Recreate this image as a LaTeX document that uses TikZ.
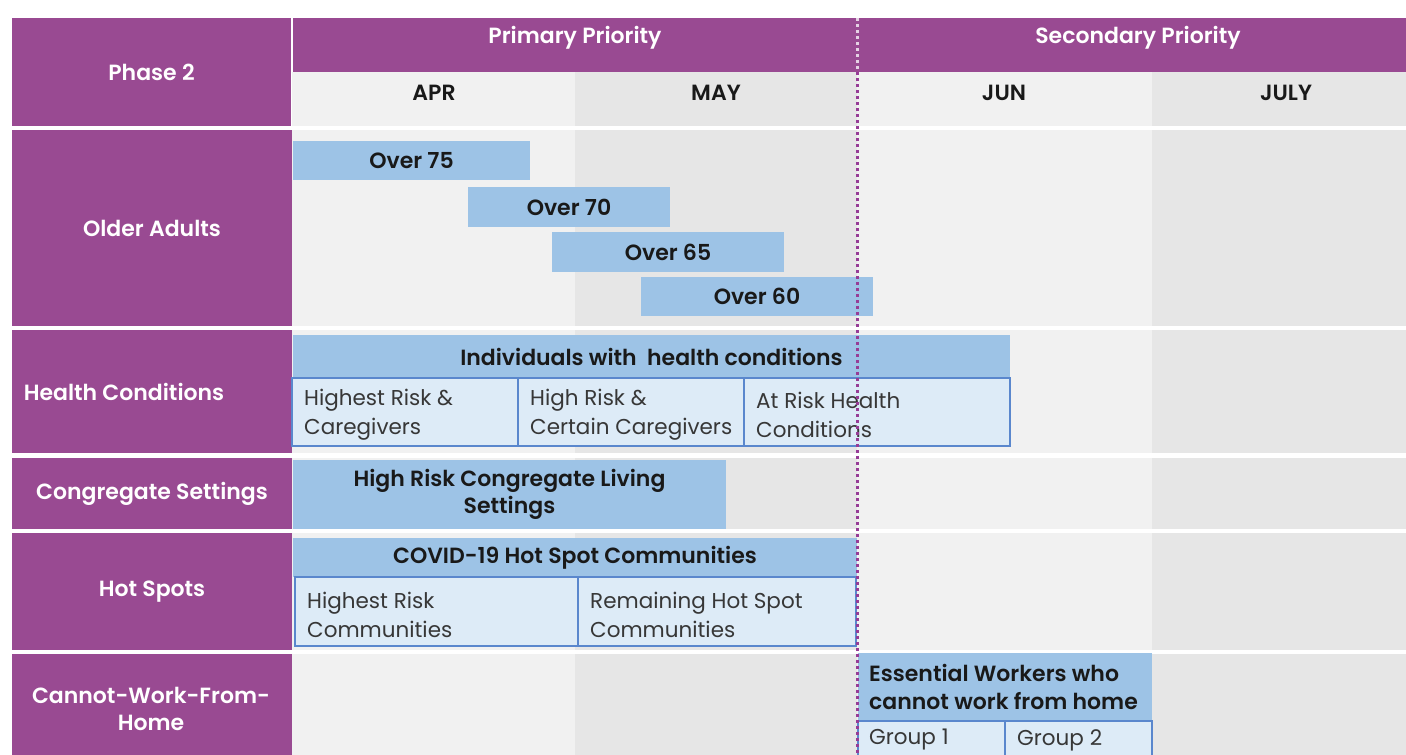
\documentclass[tikz,border=0pt]{standalone}
\usepackage{fontspec}
\setmainfont{Poppins}[BoldFont={Poppins SemiBold}]
\definecolor{purp}{RGB}{153,74,146}
\definecolor{dotc}{RGB}{150,60,150}
\definecolor{barblue}{RGB}{157,195,230}
\definecolor{subfill}{RGB}{221,235,247}
\definecolor{subline}{RGB}{90,135,205}
\definecolor{gA}{RGB}{241,241,241}
\definecolor{gB}{RGB}{230,230,230}
\definecolor{txt}{RGB}{25,25,25}
\definecolor{subtext}{RGB}{55,55,55}
\newcommand\Rbox[7]{\node[#2, minimum width={(#5-#3)*1pt}, minimum height={(#6-#4)*1pt}] (#1) at (#3,#4) {#7};}
\begin{document}
\begin{tikzpicture}[x=1pt,y=-1pt,
  cellbase/.style={anchor=north west, inner sep=0pt, outer sep=0pt},
  side/.style={cellbase, fill=purp, text=white, font=\fontsize{22}{27}\selectfont\bfseries, align=center},
  sidetxt/.style={inner sep=0pt, text=white, font=\fontsize{22}{27}\selectfont\bfseries, align=center},
  head/.style={cellbase, fill=purp},
  headtxt/.style={inner sep=0pt, text=white, font=\fontsize{22}{27}\selectfont\bfseries},
  month/.style={cellbase},
  monthtxt/.style={inner sep=0pt, text=txt, font=\fontsize{22}{27}\selectfont\bfseries},
  bar/.style={cellbase, fill=barblue, text=txt, font=\fontsize{22}{27}\selectfont\bfseries, align=center},
  sub/.style={cellbase, fill=subfill, draw=subline, line width=1.3pt},
  subtxt/.style={anchor=west, inner sep=0pt, yshift=-3pt, text=subtext, font=\fontsize{21.5}{29}\selectfont, align=left},
  grptxt/.style={anchor=west, inner sep=0pt, text=subtext, font=\fontsize{21.5}{29}\selectfont},
  barltxt/.style={anchor=west, inner sep=0pt, text=txt, font=\fontsize{22}{28}\selectfont\bfseries, align=left},
  divider/.style={dotc, line width=3pt, dash pattern=on 3pt off 3pt},
  dividerhead/.style={white!75!purp, line width=3pt, dash pattern=on 3pt off 3pt}
]
\clip (0,0) rectangle (1406,755);
\fill[white] (0,0) rectangle (1406,755);
% column backgrounds
\fill[gA] (292,72) rectangle (575,755);
\fill[gB] (575,72) rectangle (857,755);
\fill[gA] (857,72) rectangle (1152,755);
\fill[gB] (1152,72) rectangle (1406,755);
% row gaps
\fill[white] (0,126) rectangle (1406,130);
\fill[white] (0,326) rectangle (1406,330);
\fill[white] (0,453) rectangle (1406,458);
\fill[white] (0,529) rectangle (1406,533);
\fill[white] (0,650) rectangle (1406,654);
% header
\Rbox{phase}{side}{12}{18}{291}{126}{Phase 2}
\Rbox{prim}{head}{293}{18}{857}{72}{}
\Rbox{sec}{head}{857}{18}{1406}{72}{}
\node[headtxt] (primt) at (575,38) {Primary Priority};
\node[headtxt] (sect) at (1138,38) {Secondary Priority};
\Rbox{apr}{month}{292}{72}{575}{126}{}
\Rbox{may}{month}{575}{72}{857}{126}{}
\Rbox{jun}{month}{857}{72}{1152}{126}{}
\Rbox{jul}{month}{1152}{72}{1406}{126}{}
\node[monthtxt] (aprt) at (434,93) {APR};
\node[monthtxt] (mayt) at (716,93) {MAY};
\node[monthtxt] (junt) at (1004,93) {JUN};
\node[monthtxt] (jult) at (1286,93) {JULY};
% side labels
\Rbox{older}{side}{12}{130}{292}{326}{Older Adults}
\Rbox{health}{side}{12}{330}{292}{453}{}
\node[sidetxt] (healthlbl) at (124,392) {Health Conditions};
\Rbox{cong}{side}{12}{458}{292}{529}{Congregate Settings}
\Rbox{hot}{side}{12}{533}{292}{650}{Hot Spots}
\Rbox{cwfh}{side}{12}{654}{292}{755}{}
\node[sidetxt] (cwfht) at (151,709) {Cannot-Work-From-\\Home};
% older adults bars
\Rbox{o75}{bar}{293}{141}{530}{180}{Over 75}
\Rbox{o70}{bar}{468}{187}{670}{227}{Over 70}
\Rbox{o65}{bar}{552}{232}{784}{272}{Over 65}
\Rbox{o60}{bar}{641}{277}{873}{316}{Over 60}
% health conditions
\Rbox{hbar}{bar}{293}{335}{1010}{378}{Individuals with\ \ health conditions}
\Rbox{hs1}{sub}{292}{378}{518}{446}{}
\Rbox{hs2}{sub}{518}{378}{744}{446}{}
\Rbox{hs3}{sub}{744}{378}{1010}{446}{}
\node[subtxt] (hs1t) at ([xshift=12pt]hs1.west) {Highest Risk \&\\Caregivers};
\node[subtxt] (hs2t) at ([xshift=12pt]hs2.west) {High Risk \&\\Certain Caregivers};
\node[subtxt] (hs3t) at ([xshift=12pt]hs3.west) {At Risk Health\\Conditions};
% congregate
\Rbox{cbar}{bar}{293}{460}{726}{529}{High Risk Congregate Living\\Settings}
% hot spots
\Rbox{hotbar}{bar}{293}{538}{857}{577}{COVID-19 Hot Spot Communities}
\Rbox{ht1}{sub}{295}{577}{578}{646}{}
\Rbox{ht2}{sub}{578}{577}{856}{646}{}
\node[subtxt] (ht1t) at ([xshift=12pt]ht1.west) {Highest Risk\\Communities};
\node[subtxt] (ht2t) at ([xshift=12pt]ht2.west) {Remaining Hot Spot\\Communities};
% essential workers
\Rbox{ebar}{bar}{858}{653}{1152}{721}{}
\node[barltxt] (ebart) at ([xshift=11pt]ebar.west) {Essential Workers who\\cannot work from home};
\Rbox{g1}{sub}{858}{721}{1005}{766}{}
\Rbox{g2}{sub}{1005}{721}{1152}{766}{}
\node[grptxt] (g1t) at (869,740) {Group 1};
\node[grptxt] (g2t) at (1017,740) {Group 2};
% divider
\coordinate (dtop) at (857,18);
\coordinate (dmid) at (857,72);
\coordinate (dbot) at (857,755);
\draw[dividerhead] (dtop) -- (dmid);
\draw[divider] (dmid) -- (dbot);
\end{tikzpicture}
\end{document}
